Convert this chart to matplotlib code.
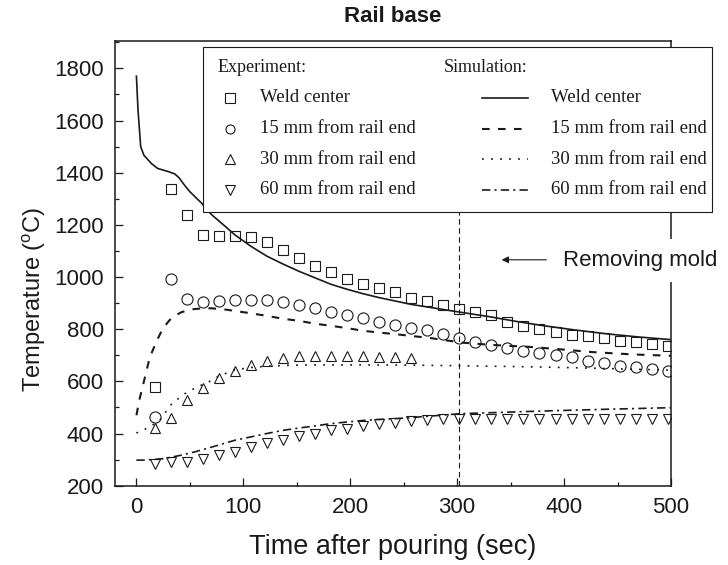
import matplotlib
matplotlib.use("Agg")
import matplotlib.pyplot as plt
from matplotlib.patches import Rectangle
from matplotlib.lines import Line2D
from matplotlib.ticker import MultipleLocator

plt.rcParams["font.family"] = ["Liberation Sans", "DejaVu Sans"]
plt.rcParams["mathtext.default"] = "regular"
plt.rcParams["lines.scale_dashes"] = False

INK = "#1a1a1a"

# thermocouple readings, one every 15 s
t_exp = [17, 32, 47, 62, 77, 92, 107, 122, 137, 152, 167, 182, 197, 212, 227, 242, 257,
         272, 287, 302, 317, 332, 347, 362, 377, 392, 407, 422, 437, 452, 467, 482, 497]
weld_exp = [577, 1338, 1236, 1162, 1158, 1158, 1152, 1133, 1102, 1071, 1043, 1018, 994, 974,
            957, 941, 921, 908, 891, 879, 867, 853, 828, 813, 802, 791, 777, 774, 768, 755,
            749, 743, 734]
mm15_exp = [465, 991, 914, 905, 908, 911, 912, 912, 904, 893, 881, 867, 855, 842, 828, 815,
            806, 796, 781, 766, 749, 739, 726, 715, 709, 702, 692, 679, 670, 657, 654, 648, 641]
mm30_exp = [421, 460, 527, 575, 612, 641, 663, 677, 690, 697, 699, 699, 699, 697, 694, 692, 690]
mm60_exp = [283, 289, 291, 303, 317, 330, 349, 365, 377, 389, 400, 412, 419, 428, 435, 442,
            447, 450, 454, 457, 457, 457, 457, 457, 457, 457, 457, 457, 457, 457, 457, 457, 457]

# simulated curves
weld_sim_t = [0, 1.5, 4, 7, 14, 20, 30, 36, 40, 45, 50, 61, 70, 80, 92, 107, 122, 137, 152,
              167, 182, 197, 212, 227, 242, 257, 280, 303, 330, 355, 378, 410, 440, 470, 500]
weld_sim = [1770, 1640, 1500, 1467, 1435, 1416, 1404, 1395, 1380, 1352, 1327, 1283, 1240, 1205,
            1162, 1118, 1080, 1050, 1022, 997, 972, 953, 936, 921, 908, 895, 880, 865, 848, 830,
            815, 797, 782, 770, 760]
mm15_sim_t = [0, 3, 8, 12.5, 19, 25, 33, 42, 51.5, 62, 70, 80, 92, 107, 122, 137, 152, 167,
              182, 197, 212, 227, 242, 257, 275, 290, 306, 331, 368, 393, 427, 465, 500]
mm15_sim = [470, 533, 616, 692, 755, 805, 844, 865, 876, 880, 880, 877, 870, 861, 851, 840, 832,
            821, 813, 804, 794, 787, 781, 774, 766, 757, 748, 740, 732, 724, 712, 703, 698]
mm30_sim_t = [0, 11.5, 22, 33, 45, 56, 67, 77, 92, 107, 122, 140, 160, 200, 260, 300, 350, 400,
              450, 500]
mm30_sim = [402, 423, 452, 514, 552, 577, 596, 620, 644, 653, 658, 661, 663, 663, 662, 660, 657,
            653, 648, 643]
mm60_sim_t = [0, 8, 26.5, 42, 55, 73, 92, 107, 122, 137, 152, 167, 182, 197, 212, 227, 242, 257,
              303, 378, 440, 500]
mm60_sim = [298, 298, 304, 317, 330, 351, 374, 387, 400, 412, 421, 429, 438, 444, 450, 454, 457,
            461, 476, 486, 493, 499]

mold_removed = 302

exp_labels = ["Weld center", "15 mm from rail end", "30 mm from rail end", "60 mm from rail end"]
markers = ["s", "o", "^", "v"]
dash_styles = ["-", (0, (5.5, 6)), (0, (1.3, 5.2)), (0, (6, 3, 1.5, 3))]
sim_widths = [1.2, 1.5, 1.2, 1.2]

fig = plt.figure(figsize=(7.28, 5.65), dpi=100)
ax = fig.add_axes([0.158, 0.1404, 0.7637, 0.7871])

sim_series = [(weld_sim_t, weld_sim), (mm15_sim_t, mm15_sim),
              (mm30_sim_t, mm30_sim), (mm60_sim_t, mm60_sim)]
for (ts, ys), ls, lw in zip(sim_series, dash_styles, sim_widths):
    ax.plot(ts, ys, color=INK, linestyle=ls, linewidth=lw)

exp_series = [(t_exp, weld_exp), (t_exp, mm15_exp),
              (t_exp[:len(mm30_exp)], mm30_exp), (t_exp, mm60_exp)]
for (ts, ys), m in zip(exp_series, markers):
    ax.plot(ts, ys, linestyle="none", marker=m, markersize=7.5 if m != "o" else 8,
            mfc="none", mec=INK, mew=0.8)

# mold removal time
ax.plot([mold_removed, mold_removed], [200, 1470], color=INK, linewidth=0.8,
        linestyle=(0, (4, 2.5)))
ax.annotate("", xy=(339, 1066), xytext=(386, 1066),
            arrowprops=dict(arrowstyle="-|>", color=INK, lw=0.8, mutation_scale=10))
ax.text(399, 1062, "Removing mold", fontsize=16, color=INK, va="center", ha="left",
        clip_on=False, zorder=6,
        bbox=dict(facecolor="white", edgecolor="none", pad=8))

ax.set_xlim(-20, 500)
ax.set_ylim(200, 1905)
ax.xaxis.set_major_locator(MultipleLocator(100))
ax.xaxis.set_minor_locator(MultipleLocator(50))
ax.yaxis.set_major_locator(MultipleLocator(200))
ax.yaxis.set_minor_locator(MultipleLocator(100))
ax.tick_params(which="both", direction="in", top=False, right=False, colors=INK,
               labelsize=16, pad=8)
ax.tick_params(which="major", length=5.5, width=0.9)
ax.tick_params(which="minor", length=3, width=0.9)
ax.set_yticks(range(200, 1801, 200))
for s in ax.spines.values():
    s.set_linewidth(1.1)
    s.set_color(INK)

ax.set_xlabel("Time after pouring (sec)", fontsize=19.5, color=INK, labelpad=12)
ax.set_ylabel("Temperature ($^{o}$C)", fontsize=17, color=INK)
ax.yaxis.set_label_coords(-0.12, 0.42)
ax.set_title("Rail base", fontsize=16, fontweight="bold", color=INK, pad=14)

# legend box, drawn by hand so the two column headers sit where they should
serif = ["Liberation Serif", "DejaVu Serif"]
ax.add_patch(Rectangle((0.159, 0.6155), 0.914, 0.3705, transform=ax.transAxes,
                       facecolor="white", edgecolor=INK, linewidth=0.8,
                       clip_on=False, zorder=5))
ax.text(0.185, 0.940, "Experiment:", transform=ax.transAxes, fontsize=13, family=serif,
        color=INK, va="center", zorder=6)
ax.text(0.592, 0.940, "Simulation:", transform=ax.transAxes, fontsize=13, family=serif,
        color=INK, va="center", zorder=6)
for i, (lab, m, ls, lw) in enumerate(zip(exp_labels, markers, dash_styles, sim_widths)):
    ry = 0.872 - 0.069 * i
    ax.add_line(Line2D([0.206], [ry], transform=ax.transAxes, marker=m, markersize=6.5,
                       mfc="none", mec=INK, mew=0.8, linestyle="none",
                       clip_on=False, zorder=6))
    ax.text(0.261, ry, lab, transform=ax.transAxes, fontsize=13.5, family=serif,
            color=INK, va="center", zorder=6)
    ax.add_line(Line2D([0.660, 0.742], [ry, ry], transform=ax.transAxes, color=INK,
                       linestyle=ls, linewidth=lw, clip_on=False, zorder=6))
    ax.text(0.784, ry, lab, transform=ax.transAxes, fontsize=13.5, family=serif,
            color=INK, va="center", zorder=6)

fig.savefig("out.png", dpi=100)
